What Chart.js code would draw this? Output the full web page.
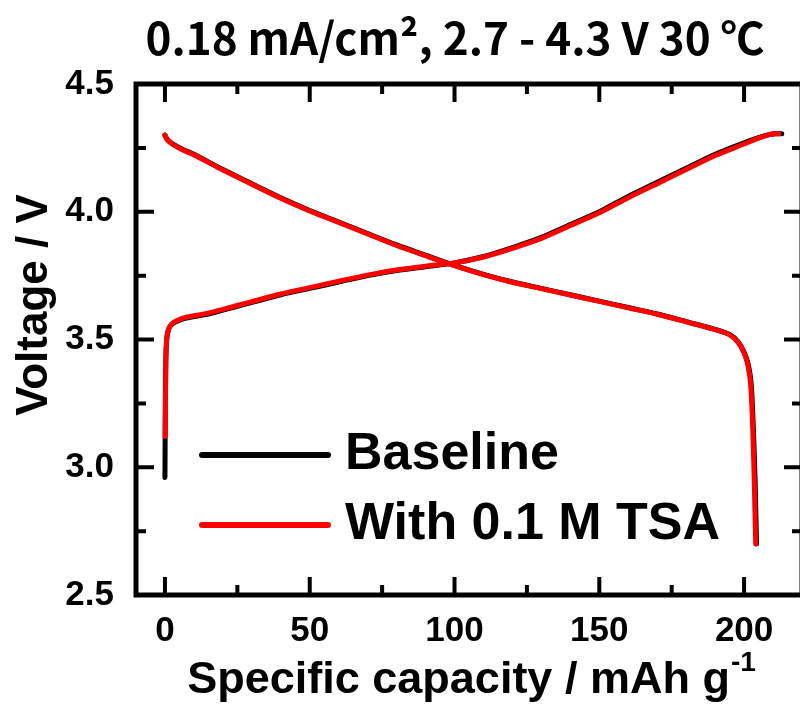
<!DOCTYPE html>
<html>
<head>
<meta charset="utf-8">
<script src="https://cdn.jsdelivr.net/npm/chart.js@4.4.0/dist/chart.umd.min.js"></script>
<style>
html, body { margin: 0; padding: 0; background: #fff; overflow: hidden; }
#wrap { width: 808px; height: 709px; }
</style>
</head>
<body>
<div id="wrap"><canvas id="voltageChart" width="808" height="709"></canvas></div>
<script>
// capacity (mAh/g) vs voltage (V)
var baseChargeCap = [0, 0.1, 0.3, 0.6, 1, 1.7, 3, 6, 10, 15, 20, 30, 40, 50, 60, 70, 80, 90, 100, 110, 120, 130, 140, 150, 160, 170, 180, 190, 200, 205, 208, 211, 213];
var baseChargeV = [2.96, 3.20, 3.42, 3.50, 3.53, 3.55, 3.565, 3.58, 3.59, 3.60, 3.615, 3.645, 3.675, 3.70, 3.725, 3.75, 3.77, 3.785, 3.80, 3.825, 3.86, 3.90, 3.95, 4.00, 4.06, 4.115, 4.17, 4.225, 4.27, 4.29, 4.30, 4.305, 4.305];
var baseDischCap = [0, 0.7, 2.5, 6, 10, 20, 30, 40, 50, 60, 70, 80, 90, 100, 110, 120, 130, 140, 150, 160, 170, 180, 190, 195, 198, 200, 201.5, 202.5, 203.2, 203.8, 204.3];
var baseDischV = [4.30, 4.284, 4.267, 4.245, 4.225, 4.165, 4.11, 4.055, 4.005, 3.96, 3.915, 3.87, 3.83, 3.79, 3.755, 3.725, 3.70, 3.675, 3.65, 3.625, 3.60, 3.57, 3.54, 3.52, 3.49, 3.45, 3.40, 3.32, 3.15, 2.95, 2.70];

var tsaChargeCap = [0.1, 0.3, 0.6, 1, 1.7, 3, 6, 10, 15, 20, 30, 40, 50, 60, 70, 80, 90, 100, 110, 120, 130, 140, 150, 160, 170, 180, 190, 200, 205, 208, 210, 212];
var tsaChargeV = [3.12, 3.42, 3.50, 3.53, 3.552, 3.567, 3.583, 3.593, 3.603, 3.618, 3.648, 3.678, 3.703, 3.728, 3.752, 3.772, 3.787, 3.80, 3.823, 3.857, 3.896, 3.946, 3.996, 4.055, 4.11, 4.165, 4.22, 4.265, 4.288, 4.30, 4.305, 4.305];
var tsaDischCap = [0, 0.7, 2.5, 6, 10, 20, 30, 40, 50, 60, 70, 80, 90, 100, 110, 120, 130, 140, 150, 160, 170, 180, 190, 195, 198, 200, 201.3, 202.3, 203.0, 203.5, 204.0];
var tsaDischV = [4.30, 4.283, 4.265, 4.243, 4.223, 4.163, 4.108, 4.053, 4.003, 3.958, 3.913, 3.868, 3.828, 3.789, 3.754, 3.724, 3.699, 3.674, 3.649, 3.624, 3.599, 3.569, 3.539, 3.518, 3.488, 3.448, 3.40, 3.32, 3.15, 2.95, 2.70];

var seriesNames = ['Baseline', 'With 0.1 M TSA'];
var seriesColors = ['#000000', '#ff0000'];

var xMajor = [0, 50, 100, 150, 200];
var xMinor = [25, 75, 125, 175];
var yMajor = [2.5, 3.0, 3.5, 4.0, 4.5];
var yMinor = [2.75, 3.25, 3.75, 4.25];

var titleText = '0.18 mA/cm\u00b2, 2.7 - 4.3 V 30 \u2103';
var xTitle = 'Specific capacity / mAh g';
var xTitleSup = '-1';
var yTitle = 'Voltage / V';

var FONT = '"Liberation Sans", Arial, sans-serif';

function toPoints(xs, ys) {
    return xs.map(function (v, i) { return { x: v, y: ys[i] }; });
}

function makeSet(label, color, xs, ys, order) {
    return {
        label: label,
        data: toPoints(xs, ys),
        borderColor: color,
        backgroundColor: color,
        borderWidth: 5,
        borderCapStyle: 'round',
        borderJoinStyle: 'round',
        pointRadius: 0,
        showLine: true,
        tension: 0.25,
        fill: false,
        order: order
    };
}

// frame + inward ticks on all four sides
var frameTicks = {
    id: 'frameTicks',
    afterDraw: function (chart) {
        var ctx = chart.ctx, a = chart.chartArea, x = chart.scales.x, y = chart.scales.y;
        ctx.save();
        ctx.strokeStyle = '#000';
        ctx.lineCap = 'butt';
        ctx.lineWidth = 4;
        ctx.beginPath();
        xMajor.concat(xMinor).forEach(function (v) {
            var len = xMajor.indexOf(v) >= 0 ? 18 : 10;
            var px = x.getPixelForValue(v);
            ctx.moveTo(px, a.bottom); ctx.lineTo(px, a.bottom - len);
            ctx.moveTo(px, a.top); ctx.lineTo(px, a.top + len);
        });
        yMajor.concat(yMinor).forEach(function (v) {
            var len = yMajor.indexOf(v) >= 0 ? 18 : 10;
            var py = y.getPixelForValue(v);
            ctx.moveTo(a.left, py); ctx.lineTo(a.left + len, py);
            ctx.moveTo(a.right, py); ctx.lineTo(a.right - len, py);
        });
        ctx.stroke();
        ctx.lineWidth = 5;
        ctx.strokeRect(a.left, a.top, a.right - a.left, a.bottom - a.top);

        // titles
        ctx.fillStyle = '#000';
        ctx.textAlign = 'center';
        ctx.textBaseline = 'middle';
        ctx.font = 'bold 44px "Noto Sans CJK KR", sans-serif';
        ctx.fillText(titleText, 455, 38);

        ctx.font = 'bold 45px ' + FONT;
        var mainW = ctx.measureText(xTitle).width;
        ctx.font = 'bold 28px ' + FONT;
        var supW = ctx.measureText(xTitleSup).width;
        var startX = 471 - (mainW + supW) / 2;
        ctx.textAlign = 'left';
        ctx.textBaseline = 'alphabetic';
        ctx.font = 'bold 45px ' + FONT;
        ctx.fillText(xTitle, startX, 693);
        ctx.font = 'bold 28px ' + FONT;
        ctx.fillText(xTitleSup, startX + mainW + 1, 671);

        ctx.translate(35, 305);
        ctx.rotate(-Math.PI / 2);
        ctx.textAlign = 'center';
        ctx.textBaseline = 'middle';
        ctx.font = 'bold 44px ' + FONT;
        ctx.fillText(yTitle, 0, 0);
        ctx.restore();
    }
};

// legend drawn inside the plot area
var innerLegend = {
    id: 'innerLegend',
    afterDatasetsDraw: function (chart) {
        var ctx = chart.ctx;
        ctx.save();
        seriesNames.forEach(function (name, i) {
            var ly = 455 + i * 70;
            ctx.strokeStyle = seriesColors[i];
            ctx.lineWidth = 6;
            ctx.lineCap = 'round';
            ctx.beginPath();
            ctx.moveTo(202, ly);
            ctx.lineTo(328, ly);
            ctx.stroke();
            ctx.fillStyle = '#000';
            ctx.font = 'bold 52px ' + FONT;
            ctx.textAlign = 'left';
            ctx.textBaseline = 'alphabetic';
            ctx.fillText(name, 345, ly + 14);
        });
        ctx.restore();
    }
};

var ctxV = document.getElementById('voltageChart').getContext('2d');
var voltageChart = new Chart(ctxV, {
    type: 'scatter',
    data: {
        datasets: [
            makeSet(seriesNames[0], seriesColors[0], baseChargeCap, baseChargeV, 2),
            makeSet(seriesNames[0], seriesColors[0], baseDischCap, baseDischV, 2),
            makeSet(seriesNames[1], seriesColors[1], tsaChargeCap, tsaChargeV, 1),
            makeSet(seriesNames[1], seriesColors[1], tsaDischCap, tsaDischV, 1)
        ]
    },
    options: {
        responsive: false,
        animation: false,
        layout: { padding: { left: 0, right: 6, top: 84, bottom: 0 } },
        plugins: {
            legend: { display: false },
            title: { display: false },
            tooltip: { enabled: false }
        },
        scales: {
            x: {
                type: 'linear',
                min: -10,
                max: 220,
                grid: { display: false, drawTicks: false },
                border: { display: false },
                afterBuildTicks: function (s) { s.ticks = xMajor.map(function (v) { return { value: v }; }); },
                afterFit: function (s) { s.height = 114; },
                ticks: {
                    color: '#000',
                    padding: 15,
                    maxRotation: 0,
                    font: { family: FONT, size: 35, weight: 'bold' }
                }
            },
            y: {
                type: 'linear',
                min: 2.5,
                max: 4.5,
                grid: { display: false, drawTicks: false },
                border: { display: false },
                afterBuildTicks: function (s) { s.ticks = yMajor.map(function (v) { return { value: v }; }); },
                afterFit: function (s) { s.width = 136; },
                ticks: {
                    color: '#000',
                    padding: 22,
                    font: { family: FONT, size: 35, weight: 'bold' },
                    callback: function (v) { return Number(v).toFixed(1); }
                }
            }
        }
    },
    plugins: [frameTicks, innerLegend]
});
</script>
</body>
</html>
